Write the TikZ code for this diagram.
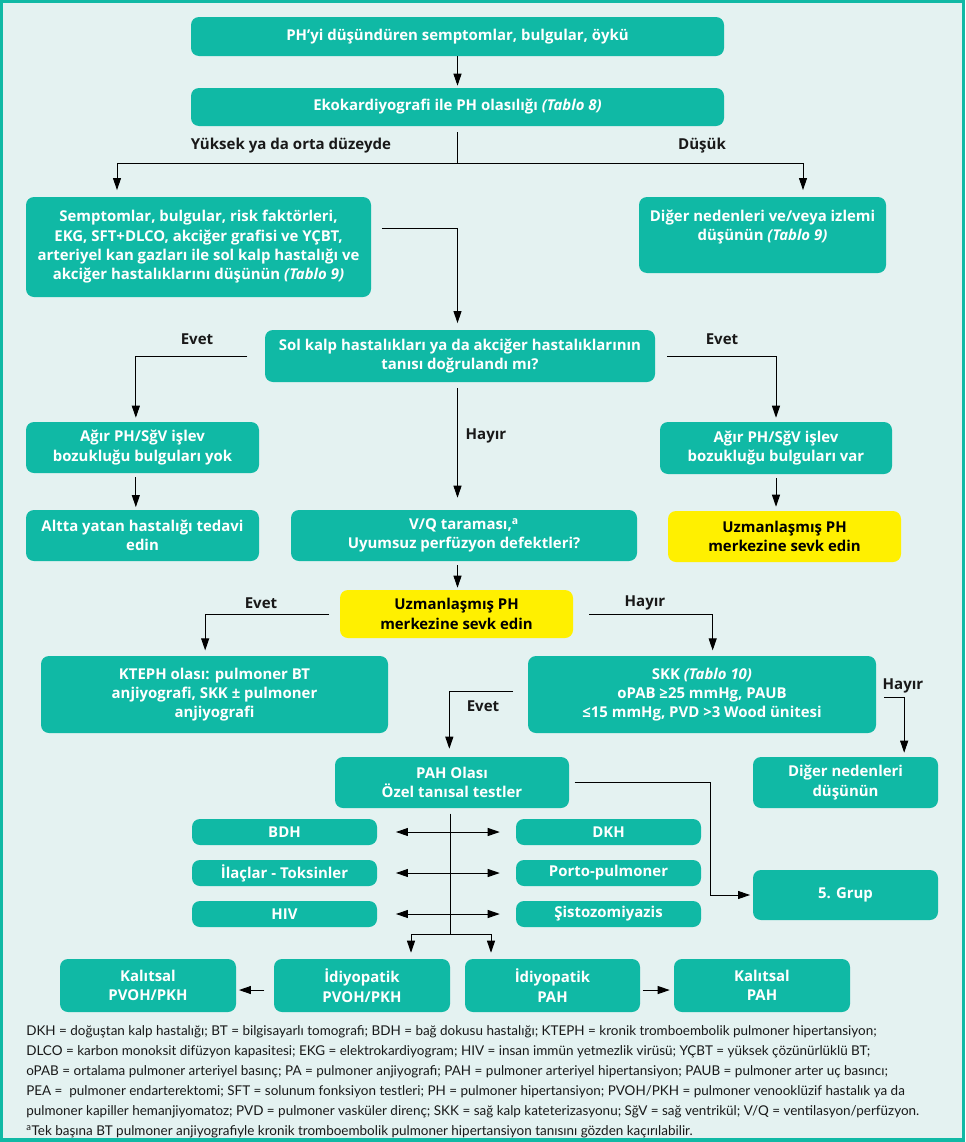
\documentclass[tikz,border=0pt]{standalone}
\usepackage{fontspec}
\setmainfont{Open Sans}
\newfontfamily\notefont{Lato}
\usetikzlibrary{arrows.meta}
\definecolor{boxteal}{RGB}{16,185,165}
\definecolor{pagebg}{RGB}{228,242,241}
\definecolor{hiyellow}{RGB}{255,240,0}

\begin{document}
\begin{tikzpicture}[x=0.75pt, y=-0.75pt,
    box/.style={fill=boxteal, rounded corners=6pt, text=white, align=center,
        inner sep=2pt, font=\bfseries\fontsize{11.2}{14.5}\selectfont},
    ybox/.style={box, fill=hiyellow, text=black},
    sz/.style 2 args={minimum width=#1*0.75pt, minimum height=#2*0.75pt},
    lbl/.style={font=\bfseries\fontsize{11.3}{12}\selectfont, text=black!90},
    arr/.style={-{Triangle[length=9pt,width=6pt]}, line width=0.7pt},
    dbl/.style={{Triangle[length=9pt,width=6pt]}-{Triangle[length=9pt,width=6pt]},
        line width=0.7pt, shorten <=14pt, shorten >=12pt},
    line/.style={line width=0.7pt}
    ]
    \useasboundingbox (0,0) rectangle (965,1142);
    \fill[boxteal] (0,0) rectangle (965,1142);
    \fill[pagebg] (3,3) rectangle (962,1138);

    % top of the chart
    \node[box, sz={533}{39}] (ph) at (457.5,36.5) {PH’yi düşündüren semptomlar, bulgular, öykü};
    \node[box, sz={533}{38}] (eko) at (457.5,107) {Ekokardiyografi ile PH olasılığı \textit{(Tablo 8)}};
    \node[box, sz={345}{100}] (risk) at (198.5,247) {Semptomlar, bulgular, risk faktörleri,\\
        EKG, SFT+DLCO, akciğer grafisi ve YÇBT,\\
        arteriyel kan gazları ile sol kalp hastalığı ve\\
        akciğer hastalıklarını düşünün \textit{(Tablo 9)}};
    \node[box, sz={247}{76}] (diger) at (762.5,235) {Diğer nedenleri ve/veya izlemi\\ düşünün \textit{(Tablo 9)}\\ \mbox{}};
    \node[box, sz={390}{52}] (tani) at (460,356) {Sol kalp hastalıkları ya da akciğer hastalıklarının\\ tanısı doğrulandı mı?};

    % second level
    \node[box, sz={233}{51}] (yok) at (142.5,447.5) {Ağır PH/SğV işlev\\ bozukluğu bulguları yok};
    \node[box, sz={232}{52}] (var) at (776,448) {Ağır PH/SğV işlev\\ bozukluğu bulguları var};
    \node[box, sz={233}{51}] (altta) at (142.5,535.5) {Altta yatan hastalığı tedavi\\ edin};
    \node[box, sz={346}{51}] (vq) at (464,535.5) {V/Q taraması,\textsuperscript{a}\\ Uyumsuz perfüzyon defektleri?};
    \node[ybox, sz={233}{51}] (uzmA) at (784.5,536.5) {Uzmanlaşmış PH\\ merkezine sevk edin};
    \node[ybox, sz={233}{48}] (uzmB) at (456.5,614) {Uzmanlaşmış PH\\ merkezine sevk edin};

    % third level
    \node[box, sz={347}{77}] (kteph) at (214.5,694.5) {KTEPH olası: pulmoner BT\\ anjiyografi, SKK ± pulmoner\\ anjiyografi};
    \node[box, sz={348}{77}] (skk) at (702,694.5) {SKK \textit{(Tablo 10)}\\ oPAB ≥25 mmHg, PAUB\\ ≤15 mmHg, PVD >3 Wood ünitesi};
    \node[box, sz={234}{51}] (pah) at (452,782.5) {PAH Olası\\ Özel tanısal testler};
    \node[box, sz={185}{51}] (digerB) at (845.5,782.5) {Diğer nedenleri\\ düşünün};
    \node[box, sz={185}{50}] (grup) at (845.5,895) {5. Grup};

    % PAH sub-groups
    \foreach \n/\t [count=\i] in {bdh/BDH, ilac/İlaçlar - Toksinler, hiv/HIV}
        \node[box, sz={185}{26}] (\n) at (284.5,791+41*\i) {\t};
    \foreach \n/\t [count=\i] in {dkh/DKH, porto/Porto-pulmoner, sisto/Şistozomiyazis}
        \node[box, sz={185}{26}] (\n) at (608.5,791+41*\i) {\t};

    % bottom row
    \node[box, sz={176}{53}] (kalPV) at (148,985.5) {Kalıtsal\\ PVOH/PKH};
    \node[box, sz={176}{53}] (idPV) at (362,985.5) {İdiyopatik\\ PVOH/PKH};
    \node[box, sz={175}{53}] (idPAH) at (552.5,985.5) {İdiyopatik\\ PAH};
    \node[box, sz={176}{53}] (kalPAH) at (762,985.5) {Kalıtsal\\ PAH};

    % labels
    \node[lbl] (lHigh) at (291,146) {Yüksek ya da orta düzeyde};
    \node[lbl] (lLow) at (702,146) {Düşük};
    \node[lbl] (lYesA) at (197,339) {Evet};
    \node[lbl] (lYesB) at (722,339) {Evet};
    \node[lbl] (lNoA) at (486,436) {Hayır};
    \node[lbl] (lYesC) at (261,603) {Evet};
    \node[lbl] (lNoB) at (645,603) {Hayır};
    \node[lbl] (lYesD) at (483,706) {Evet};
    \node[lbl] (lNoC) at (903,686) {Hayır};

    % connectors
    \coordinate (split) at (457.5,163);
    \coordinate (splitL) at (117,163);
    \coordinate (splitR) at (803,163);
    \draw[arr, shorten >=1.5pt] (ph) -- (eko);
    \draw[line, shorten <=4.5pt] (eko.south) -- (split);
    \draw[arr, shorten >=5pt] (split) -- (splitL) -- (splitL |- risk.north);
    \draw[arr, shorten >=5pt] (split) -- (splitR) -- (splitR |- diger.north);
    \draw[arr, shorten >=5pt] ([xshift=8pt,yshift=14pt]risk.east) -| (eko.south |- tani.north);
    \draw[arr, shorten >=3pt] ([xshift=-13pt]tani.west) -| ([xshift=-5pt]yok.north);
    \draw[arr, shorten >=3pt] ([xshift=9pt]tani.east) -| (var.north);
    \draw[arr, shorten <=4.5pt, shorten >=9pt] (eko.south |- tani.south) -- (eko.south |- vq.north);
    \draw[arr, shorten <=3pt, shorten >=2pt] ([xshift=-5pt]yok.south) -- ([xshift=-5pt]altta.north);
    \draw[arr, shorten <=3pt, shorten >=3pt] (var.south) -- (var.south |- uzmA.north);
    \draw[arr, shorten <=3pt, shorten >=1.5pt] (eko.south |- vq.south) -- (eko.south |- uzmB.north);
    \draw[arr, shorten >=4pt] ([xshift=-8pt]uzmB.west) -| ([xshift=-7pt]kteph.north);
    \draw[arr, shorten >=4pt] ([xshift=12pt]uzmB.east) -| ([xshift=8pt]skk.north);
    \draw[arr, shorten >=6pt] ([xshift=-11pt,yshift=2.5pt]skk.west) -| ([xshift=-2pt]pah.north);
    \draw[arr, shorten >=3pt] ([xshift=6pt,yshift=-2pt]skk.east) -| ([xshift=44pt]digerB.north);

    \coordinate (bend) at (710,782);
    \draw[arr, shorten >=2pt] ([xshift=4pt,yshift=0.375pt]pah.east) -- (bend) |- (grup.west);

    % trunk under PAH
    \coordinate (fork) at (450,934);
    \coordinate (forkL) at (411,934);
    \coordinate (forkR) at (491,934);
    \draw[line, shorten <=4pt] (fork |- pah.south) -- (fork);
    \draw[arr, shorten >=4.5pt] (fork) -- (forkL) -- (forkL |- idPV.north);
    \draw[arr, shorten >=4.5pt] (fork) -- (forkR) -- (forkR |- idPAH.north);
    \foreach \l/\r in {bdh/dkh, ilac/porto, hiv/sisto}
        \draw[dbl] (\l.east) -- (\r.west);

    \draw[arr, shorten <=7pt, shorten >=2pt] ([yshift=-3.4pt]idPV.west) -- ([yshift=-3.4pt]kalPV.east);
    \draw[arr, shorten <=2pt, shorten >=3pt] ([yshift=-3.4pt]idPAH.east) -- ([yshift=-3.4pt]kalPAH.west);

    % abbreviations
    \node[anchor=north west, align=left, inner sep=0pt, text=black!90,
        font=\notefont\fontsize{10.1}{15}\selectfont] (abbr) at (26,1025) {%
        DKH = doğuştan kalp hastalığı; BT = bilgisayarlı tomografi; BDH = bağ dokusu hastalığı; KTEPH = kronik tromboembolik pulmoner hipertansiyon;\\
        DLCO = karbon monoksit difüzyon kapasitesi; EKG = elektrokardiyogram; HIV = insan immün yetmezlik virüsü; YÇBT = yüksek çözünürlüklü BT;\\
        oPAB = ortalama pulmoner arteriyel basınç; PA = pulmoner anjiyografi; PAH = pulmoner arteriyel hipertansiyon; PAUB = pulmoner arter uç basıncı;\\
        PEA = \ pulmoner endarterektomi; SFT = solunum fonksiyon testleri; PH = pulmoner hipertansiyon; PVOH/PKH = pulmoner venooklüzif hastalık ya da\\
        pulmoner kapiller hemanjiyomatoz; PVD = pulmoner vasküler direnç; SKK = sağ kalp kateterizasyonu; SğV = sağ ventrikül; V/Q = ventilasyon/perfüzyon.\\
        \textsuperscript{a}Tek başına BT pulmoner anjiyografiyle kronik tromboembolik pulmoner hipertansiyon tanısını gözden kaçırılabilir.};
\end{tikzpicture}
\end{document}
